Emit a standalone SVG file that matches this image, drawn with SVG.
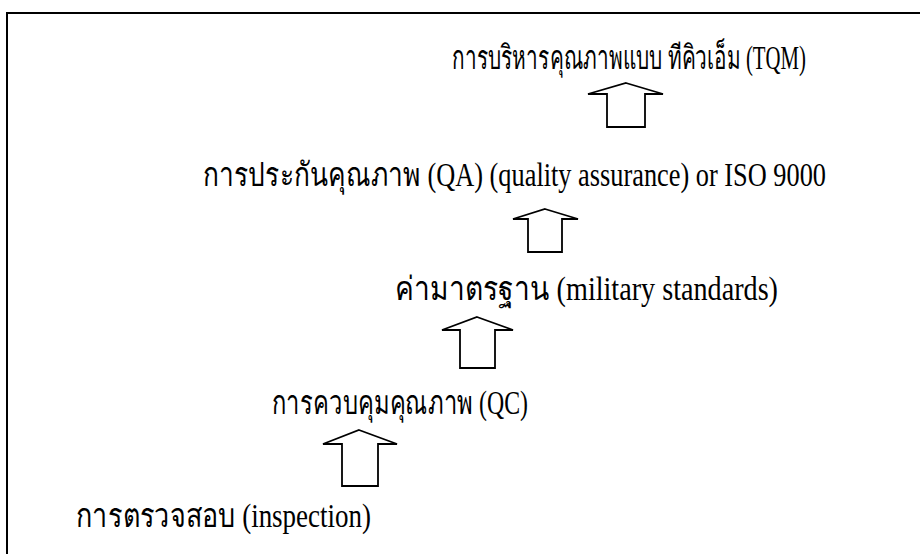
<svg xmlns="http://www.w3.org/2000/svg" width="920" height="554" viewBox="0 0 920 554">
<style>
.frame{fill:none;stroke:#000;stroke-width:2}
.arrow{fill:#fff;stroke:#000;stroke-width:1.8;stroke-linejoin:miter}
.t{font-family:"Liberation Serif","DejaVu Serif",serif;font-size:33px;fill:#000}
</style>
<rect width="920" height="554" fill="#fff"/>
<rect class="frame" x="7" y="13" width="920" height="560"/>
<g id="n1"><text class="t" x="452" y="69" textLength="354" lengthAdjust="spacingAndGlyphs">การบริหารคุณภาพแบบ ทีคิวเอ็ม (TQM)</text></g>
<g id="n2"><text class="t" x="203" y="186" textLength="623" lengthAdjust="spacingAndGlyphs">การประกันคุณภาพ (QA) (quality assurance) or ISO 9000</text></g>
<g id="n3"><text class="t" x="395" y="300" textLength="383" lengthAdjust="spacingAndGlyphs">ค่ามาตรฐาน (military standards)</text></g>
<g id="n4"><text class="t" x="272" y="414" textLength="256" lengthAdjust="spacingAndGlyphs">การควบคุมคุณภาพ (QC)</text></g>
<g id="n5"><text class="t" x="76" y="527" textLength="295" lengthAdjust="spacingAndGlyphs">การตรวจสอบ (inspection)</text></g>
<g id="connectors">
<polygon class="arrow" points="626,83 663,94 645,94 645,127 607,127 607,94 588,94"/>
<polygon class="arrow" points="545,209 578,219 562,219 562,252 528,252 528,219 513,219"/>
<polygon class="arrow" points="477,317 513,330 495,330 495,368 460,368 460,330 442,330"/>
<polygon class="arrow" points="359,430 397,444 378,444 378,486 342,486 342,444 323,444"/>
</g>
</svg>
